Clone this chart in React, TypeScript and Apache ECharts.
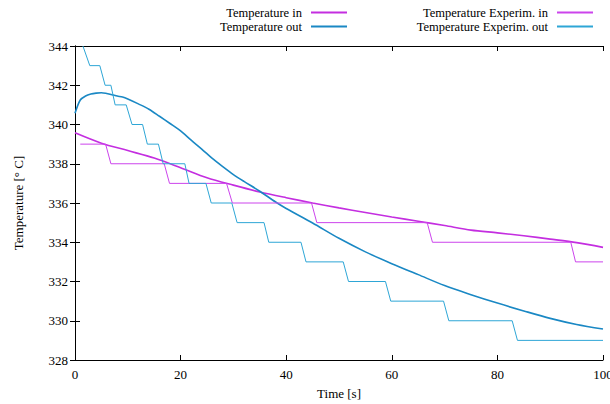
import React, { useEffect, useRef } from "react";
import * as echarts from "echarts";

const simTimesIn = [0, 5, 10, 15, 20, 25, 30, 35, 40, 45, 50, 55, 60, 65, 70, 75, 80, 85, 90, 95, 100];
const simValuesIn = [339.58, 339.05, 338.67, 338.29, 337.8, 337.29, 336.91, 336.56, 336.27, 336.0, 335.75, 335.52, 335.29, 335.07, 334.85, 334.62, 334.48, 334.33, 334.16, 333.98, 333.74];

const simTimesOut = [0, 1, 2, 3, 4, 5, 6, 7, 8, 9, 10, 12, 14, 16, 18, 20, 22, 24, 26, 28, 30, 32, 35, 38, 40, 45, 50, 55, 60, 65, 70, 75, 80, 85, 90, 95, 100];
const simValuesOut = [340.57, 341.25, 341.45, 341.55, 341.6, 341.62, 341.58, 341.52, 341.45, 341.4, 341.3, 341.05, 340.78, 340.42, 340.05, 339.67, 339.2, 338.75, 338.27, 337.85, 337.45, 337.1, 336.6, 336.05, 335.72, 334.98, 334.2, 333.51, 332.91, 332.35, 331.79, 331.33, 330.9, 330.5, 330.12, 329.81, 329.58];

const expTimesIn = [1, 5.8, 6.8, 16.9, 17.9, 28.7, 29.8, 44.8, 45.8, 66.7, 67.7, 93.9, 94.8, 100];
const expValuesIn = [339, 339, 338, 338, 337, 337, 336, 336, 335, 335, 334, 334, 333, 333];

const expTimesOut = [1.5, 2.8, 4.7, 5.7, 6.8, 7.6, 9.7, 10.8, 12.8, 13.7, 15.8, 16.7, 20.8, 21.6, 24.8, 25.8, 29.7, 30.7, 35.8, 36.7, 42.8, 43.75, 50.8, 51.8, 58.8, 59.8, 69.8, 70.8, 82.8, 83.8, 100];
const expValuesOut = [344, 343, 343, 342, 342, 341, 341, 340, 340, 339, 339, 338, 338, 337, 337, 336, 336, 335, 335, 334, 334, 333, 333, 332, 332, 331, 331, 330, 330, 329, 329];

const xTicks = [0, 20, 40, 60, 80, 100];
const yTicks = [328, 330, 332, 334, 336, 338, 340, 342, 344];

const zip = (t: number[], v: number[]) => t.map((x, i) => [x, v[i]]);

const FONT = "'Liberation Serif', 'Times New Roman', serif";
const MAGENTA = "#c42ee0";
const MAGENTA_L = "#cc44ec";
const BLUE = "#1a88c4";
const BLUE_L = "#2ea6d6";

export default function App() {
  const ref = useRef<HTMLDivElement>(null);
  useEffect(() => {
    if (!ref.current) return;
    const chart = echarts.init(ref.current, null, { renderer: "svg" });
    const legendBase = {
      orient: "horizontal" as const,
      align: "right" as const,
      icon: "rect",
      itemWidth: 36,
      itemHeight: 2,
      textStyle: { fontFamily: FONT, fontSize: 12.5, lineHeight: 12, color: "#000", padding: [0, 4, 0, 0] },
      padding: 0,
    };
    chart.setOption({
      animation: false,
      backgroundColor: "#fff",
      legend: [
        { ...legendBase, data: ["Temperature in"], right: 263, top: 6 },
        { ...legendBase, data: ["Temperature out"], right: 263, top: 20 },
        { ...legendBase, data: ["Temperature Experim. in"], right: 17, top: 6 },
        { ...legendBase, data: ["Temperature Experim. out"], right: 17, top: 20 },
      ],
      grid: { left: 75, right: 7, top: 46, bottom: 44, show: false, outerBoundsMode: "none", containLabel: false },
      xAxis: [
        {
          type: "value",
          min: 0,
          max: 100,
          interval: 20,
          name: "Time [s]",
          nameLocation: "middle",
          nameGap: 27,
          nameTextStyle: { fontFamily: FONT, fontSize: 13, color: "#000" },
          axisLine: { show: true, lineStyle: { color: "#000", width: 1 } },
          axisTick: { show: true, inside: true, length: 5, lineStyle: { color: "#000" } },
          axisLabel: {
            fontFamily: FONT,
            fontSize: 13,
            color: "#000",
            margin: 8,
            hideOverlap: false,
            formatter: (v: number) => (xTicks.includes(v) ? String(v) : ""),
          },
          splitLine: { show: false },
        },
        {
          type: "value",
          position: "top",
          min: 0,
          max: 100,
          interval: 20,
          axisLine: { show: true, lineStyle: { color: "#000", width: 1 } },
          axisTick: { show: true, inside: true, length: 5, lineStyle: { color: "#000" } },
          axisLabel: { show: false },
          splitLine: { show: false },
        },
      ],
      yAxis: [
        {
          type: "value",
          min: 328,
          max: 344,
          interval: 2,
          name: "Temperature [° C]",
          nameLocation: "middle",
          nameGap: 50,
          nameRotate: 90,
          nameTextStyle: { fontFamily: FONT, fontSize: 13, color: "#000" },
          axisLine: { show: true, lineStyle: { color: "#000", width: 1 } },
          axisTick: { show: true, inside: true, length: 5, lineStyle: { color: "#000" } },
          axisLabel: {
            fontFamily: FONT,
            fontSize: 13,
            color: "#000",
            margin: 7,
            formatter: (v: number) => (yTicks.includes(v) ? String(v) : ""),
          },
          splitLine: { show: false },
        },
        {
          type: "value",
          position: "right",
          min: 328,
          max: 344,
          interval: 2,
          axisLine: { show: true, lineStyle: { color: "#000", width: 1 } },
          axisTick: { show: true, inside: true, length: 5, lineStyle: { color: "#000" } },
          axisLabel: { show: false },
          splitLine: { show: false },
        },
      ],
      series: [
        {
          name: "Temperature in",
          type: "line",
          data: zip(simTimesIn, simValuesIn),
          showSymbol: false,
          symbol: "none",
          smooth: 0.3,
          lineStyle: { color: MAGENTA, width: 1.6 },
          itemStyle: { color: MAGENTA },
          clip: true,
        },
        {
          name: "Temperature out",
          type: "line",
          data: zip(simTimesOut, simValuesOut),
          showSymbol: false,
          symbol: "none",
          smooth: 0.3,
          lineStyle: { color: BLUE, width: 1.6 },
          itemStyle: { color: BLUE },
          clip: true,
        },
        {
          name: "Temperature Experim. in",
          type: "line",
          data: zip(expTimesIn, expValuesIn),
          showSymbol: false,
          symbol: "none",
          lineStyle: { color: MAGENTA_L, width: 1 },
          itemStyle: { color: MAGENTA_L },
          clip: true,
        },
        {
          name: "Temperature Experim. out",
          type: "line",
          data: zip(expTimesOut, expValuesOut),
          showSymbol: false,
          symbol: "none",
          lineStyle: { color: BLUE_L, width: 1 },
          itemStyle: { color: BLUE_L },
          clip: true,
        },
      ],
    });
    return () => chart.dispose();
  }, []);
  return (
    <div
      ref={ref}
      style={{ position: "absolute", left: 0, top: 0, width: 610, height: 404, overflow: "hidden" }}
    />
  );
}
